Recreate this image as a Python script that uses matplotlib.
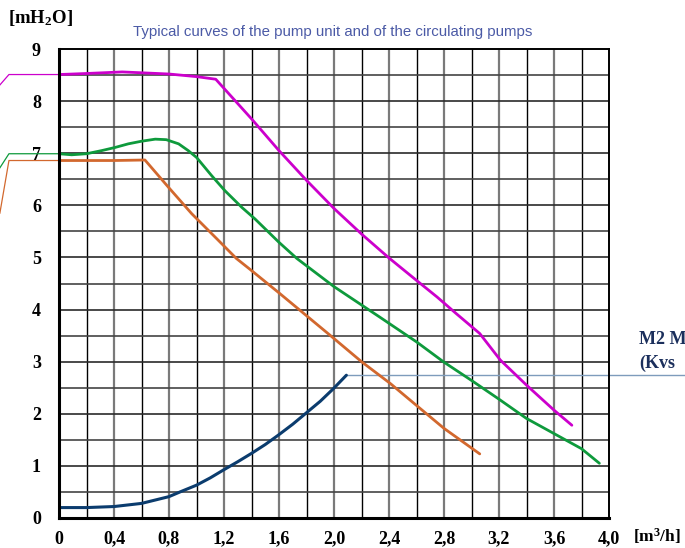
import matplotlib
matplotlib.use("Agg")
import matplotlib.pyplot as plt
import numpy as np

plt.rcParams['mathtext.fontset'] = 'custom'
plt.rcParams['mathtext.rm'] = 'Liberation Serif:bold'
plt.rcParams['mathtext.bf'] = 'Liberation Serif:bold'
plt.rcParams['mathtext.it'] = 'Liberation Serif:bold'

# ---- data ----
mag_q = [0, 0.2, 0.46, 0.8, 1.0, 1.14, 1.4, 1.6, 1.8, 2.0, 2.2, 2.4, 2.6, 2.75, 2.89, 3.06, 3.21, 3.4, 3.6, 3.73]
mag_h = [8.51, 8.53, 8.56, 8.52, 8.47, 8.42, 7.66, 7.05, 6.48, 5.94, 5.45, 4.99, 4.56, 4.24, 3.92, 3.54, 3.03, 2.55, 2.07, 1.78]

grn_q = [0, 0.092, 0.2, 0.31, 0.407, 0.504, 0.6, 0.7, 0.78, 0.87, 0.94, 1.0, 1.11, 1.207, 1.33, 1.425,
         1.6, 1.73, 2.0, 2.33, 2.6, 2.8, 3.0, 3.2, 3.4, 3.6, 3.8, 3.93]
grn_h = [6.99, 6.97, 6.99, 7.05, 7.11, 7.18, 7.23, 7.27, 7.26, 7.18, 7.05, 6.92, 6.57, 6.28, 5.96, 5.74,
         5.29, 4.98, 4.44, 3.86, 3.38, 2.99, 2.64, 2.28, 1.91, 1.62, 1.33, 1.05]

org_q = [0, 0.4, 0.625, 0.795, 0.965, 1.147, 1.29, 1.39, 1.6, 1.97, 2.2, 2.41, 2.6, 2.8, 3.06]
org_h = [6.86, 6.86, 6.87, 6.35, 5.84, 5.36, 4.98, 4.77, 4.32, 3.51, 3.0, 2.58, 2.16, 1.72, 1.23]

blu_q = [0, 0.2, 0.4, 0.6, 0.8, 0.88, 1.0, 1.1, 1.195, 1.3, 1.4, 1.5, 1.595, 1.7, 1.8, 1.9, 1.995, 2.09]
blu_h = [0.2, 0.2, 0.22, 0.28, 0.41, 0.50, 0.63, 0.77, 0.92, 1.08, 1.24, 1.41, 1.59, 1.80, 2.02, 2.24, 2.48, 2.74]

# left-hand leader stubs (outside the axes)
mag_stub_q = [-0.43, -0.364, 0]
mag_stub_h = [8.31, 8.51, 8.51]
grn_stub_q = [-0.43, -0.364, 0]
grn_stub_h = [6.72, 6.99, 6.99]
org_stub_q = [-0.43, -0.364, 0]
org_stub_h = [5.85, 6.86, 6.86]
# right-hand leader for the valve curve
blu_lead_q = [2.09, 4.56]
blu_lead_h = [2.74, 2.74]

x_ticks = [0, 0.4, 0.8, 1.2, 1.6, 2.0, 2.4, 2.8, 3.2, 3.6, 4.0]
x_labels = ['0', '0,4', '0,8', '1,2', '1,6', '2,0', '2,4', '2,8', '3,2', '3,6', '4,0']
y_ticks = [0, 1, 2, 3, 4, 5, 6, 7, 8, 9]
y_labels = ['0', '1', '2', '3', '4', '5', '6', '7', '8', '9']

title = "Typical curves of the pump unit and of the circulating pumps"

# ---- figure ----
fig = plt.figure(figsize=(6.85, 5.48), dpi=100)
ax = fig.add_axes([59/685, 30/548, 550/685, 469/548])
ax.set_xlim(0, 4.0)
ax.set_ylim(0, 9)

# grid
for i, xv in enumerate(np.arange(0.2, 4.0, 0.2)):
    if i % 2 == 0:
        ax.axvline(xv, color='black', lw=1.0, zorder=1)
    else:
        ax.axvline(xv, color='#7a7a7a', lw=1.6, zorder=1)
for j, yv in enumerate(np.arange(0.5, 9.0, 0.5)):
    ax.axhline(yv, color='#2a2a2a' if j % 2 else '#444444', lw=1.2, zorder=1)

for s in ['left', 'bottom']:
    ax.spines[s].set_linewidth(2.2)
for s in ['top', 'right']:
    ax.spines[s].set_linewidth(1.4)
for s in ax.spines.values():
    s.set_color('black')
    s.set_zorder(5)

ax.plot(mag_q, mag_h, color='#cc00cc', lw=2.0, zorder=3, solid_capstyle='round', solid_joinstyle='round')
ax.plot(grn_q, grn_h, color='#0e9a3c', lw=2.0, zorder=3, solid_capstyle='round', solid_joinstyle='round')
ax.plot(org_q, org_h, color='#d2682e', lw=2.0, zorder=3, solid_capstyle='round', solid_joinstyle='round')
ax.plot(blu_q, blu_h, color='#0b3c6e', lw=2.2, zorder=3, solid_capstyle='round', solid_joinstyle='round')

ax.plot(mag_stub_q, mag_stub_h, color='#cc00cc', lw=0.9, clip_on=False, zorder=2)
ax.plot(grn_stub_q, grn_stub_h, color='#0e9a3c', lw=0.9, clip_on=False, zorder=2)
ax.plot(org_stub_q, org_stub_h, color='#d2682e', lw=0.9, clip_on=False, zorder=2)
ax.plot(blu_lead_q, blu_lead_h, color='#7e9cbc', lw=1.0, clip_on=False, zorder=2)

ax.set_xticks(x_ticks)
ax.set_xticklabels(x_labels)
ax.set_yticks(y_ticks)
ax.set_yticklabels(y_labels)
ax.tick_params(length=0)
for lab in ax.get_xticklabels() + ax.get_yticklabels():
    lab.set_fontfamily('Liberation Serif')
    lab.set_fontweight('bold')
    lab.set_fontsize(13)
ax.tick_params(axis='y', pad=13)
ax.tick_params(axis='x', pad=9)

fig.text(333/685, 1 - 32/548, title, ha='center', va='center',
         fontfamily='Liberation Sans', fontsize=10.8, color='#4b5aa6')
fig.text(8/685, 1 - 18/548, r'$\mathbf{[mH_2O]}$', ha='left', va='center',
         fontsize=13.5, color='black')
fig.text(681/685, 1 - 536/548, r'$\mathbf{[m^3/h]}$', ha='right', va='center',
         fontsize=12.5, color='black')
fig.text(639/685, 1 - 340/548, 'M2 M', ha='left', va='center',
         fontfamily='Liberation Serif', fontweight='bold', fontsize=13, color='#1b2f5c')
fig.text(639/685, 1 - 363/548, '(Kvs', ha='left', va='center',
         fontfamily='Liberation Serif', fontweight='bold', fontsize=13, color='#1b2f5c')

fig.savefig('out.png', dpi=100)
